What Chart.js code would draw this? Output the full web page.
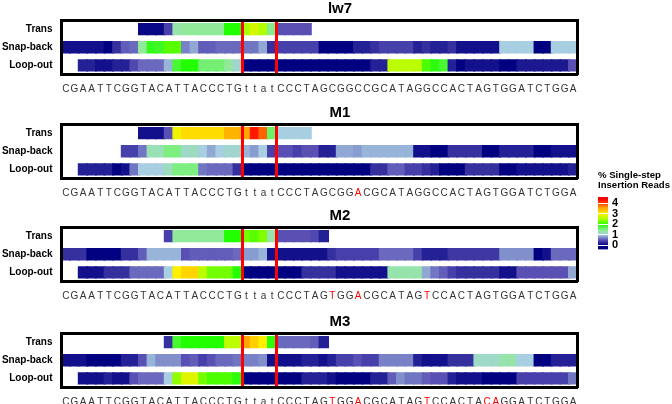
<!DOCTYPE html>
<html><head><meta charset="utf-8">
<script src="https://cdn.jsdelivr.net/npm/chart.js@4.4.1/dist/chart.umd.min.js"></script>
<style>
html,body{margin:0;padding:0;background:#fff;}
#wrap{position:relative;width:672px;height:404px;overflow:hidden;background:#fff;}
canvas{position:absolute;}
</style></head><body><div id="wrap">
<canvas id="p0" width="680" height="104" style="left:0px;top:0px"></canvas>
<canvas id="p1" width="680" height="104" style="left:0px;top:104px"></canvas>
<canvas id="p2" width="680" height="104" style="left:0px;top:207px"></canvas>
<canvas id="p3" width="680" height="104" style="left:0px;top:313px"></canvas>
<canvas id="leg" width="82" height="92" style="left:590px;top:168px"></canvas>
</div>
<script>
const FONT = "'Liberation Sans', Arial, sans-serif";
const rowLabels = ['Trans', 'Snap-back', 'Loop-out'];
const panelTitles = ['lw7', 'M1', 'M2', 'M3'];
const redLines = [21, 25];
const colorTicks = [0, 1, 2, 3, 4];

const seqLw7 = [...'CGAATTCGGTACATTACCCTGttatCCCTAGCGGCCGCATAGGCCACTAGTGGATCTGGA'];
const seqM1  = [...'CGAATTCGGTACATTACCCTGttatCCCTAGCGGACGCATAGGCCACTAGTGGATCTGGA'];
const seqM2  = [...'CGAATTCGGTACATTACCCTGttatCCCTAGTGGACGCATAGTCCACTAGTGGATCTGGA'];
const seqM3  = [...'CGAATTCGGTACATTACCCTGttatCCCTAGTGGACGCATAGTCCACTACAGGATCTGGA'];
const mutLw7 = [];
const mutM1 = [34];
const mutM2 = [31, 34, 42];
const mutM3 = [31, 34, 42, 49, 50];

const _ = null;
const lw7Trans = [_,_,_,_,_,_,_,_,_, 0.05,0.05,0.05, 0.4, 1.3, 1.4,1.4,1.4,1.4,1.4, 2.0,2.0, 2.5,2.75,2.55, 1.45, 0.5,0.5,0.5,0.5,
  _,_,_,_,_,_,_,_,_,_,_,_,_,_,_,_,_,_,_,_,_,_,_,_,_,_,_,_,_,_,_];
const lw7Snap = [0.1,0.1,0.1,0.1,0.1, 0, 0.3, 0.55, 0.6, 1.4, 1.9, 1.85, 2.2, 2.2, 0.7, 0.85, 0.55,0.55, 0.6,0.6,0.6, 0.65,0.65, 0.85, 0.3,
  0.4,0.4,0.4,0.4,0.4, 0,0,0,0, 0.2,0.2, 0.3, 0.4,0.4,0.4,0.4, 0.2, 0.3, 0.2,0.2, 0.3, 0.1,0.1,0.1,0.1,0.1, 1.0,1.0,1.0,1.0, 0,0, 1.0,1.0,1.0];
const lw7Loop = [_,_, 0.2,0.2, 0.1,0.1, 0.2,0.2, 0.45, 0.6,0.6,0.6, 0.9, 1.8, 2.0,2.0, 1.55,1.55,1.55, 1.4, 1.1,
  0,0,0,0,0,0,0,0,0,0,0,0,0,0,0, 0.2,0.2, 2.6,2.6,2.6,2.6, 2.15, 1.95, 1.8, 0.2, 0, 0.1,0.1,0.1,0.1, 0,0, 0.15,0.15,0.15,0.15,0.15,0.15, 0.5];

const m1Trans = [_,_,_,_,_,_,_,_,_, 0.1,0.1,0.1, 0.5, 2.9, 3.15,3.15,3.15,3.15,3.15, 3.45,3.45, 3.55, 4.25, 3.85, 1.6, 1.0,1.0,1.0,1.0,
  _,_,_,_,_,_,_,_,_,_,_,_,_,_,_,_,_,_,_,_,_,_,_,_,_,_,_,_,_,_,_];
const m1Snap = [_,_,_,_,_,_,_, 0.4,0.4, 0.65, 1.25,1.25, 1.5,1.5, 1.15, 1.2, 1.0, 0.85, 1.0, 1.1,1.1, 0.9, 0.8, 1.0, 0.4,
  0.5,0.5, 0.4, 0.5,0.5, 0.2,0.2, 0.85,0.85, 0.8, 0.9,0.9,0.9,0.9,0.9,0.9, 0.1,0.1, 0,0, 0.3,0.3,0.3,0.3, 0,0, 0.2,0.2,0.2,0.2, 0,0, 0.1,0.1,0.1];
const m1Loop = [_,_, 0.2,0.2,0.2,0.2, 0, 0.1, 0.65, 1.0,1.0,1.0, 1.2, 1.5,1.5,1.5, 0.65, 0.6,0.6,0.6, 0.3,
  0,0,0,0,0,0,0,0,0,0,0,0,0,0,0, 0.3,0.3, 0.55,0.55, 0.4,0.4, 0.3, 0.2, 0,0,0, 0.3,0.3,0.3,0.3, 0,0, 0.1,0.1,0.1,0.1,0.1,0.1, 0.2];

const m2Trans = [_,_,_,_,_,_,_,_,_,_,_,_, 0.4, 1.4,1.4,1.4,1.4,1.4,1.4, 2.0,2.0, 2.3, 2.2, 2.35, 1.3, 0.5,0.5,0.5,0.5, 0.45, 0.2,
  _,_,_,_,_,_,_,_,_,_,_,_,_,_,_,_,_,_,_,_,_,_,_,_,_,_,_,_,_];
const m2Snap = [0.3,0.3,0.3, 0,0,0,0, 0.3,0.3, 0.55, 0.9,0.9,0.9,0.9, 0.5, 0.55,0.55,0.55,0.55,0.55, 0.6, 0.8,0.8, 0.9, 0.1,
  0.1,0.1,0.1,0.1,0.1,0.1, 0.3, 0.4,0.4,0.4,0.4,0.4, 0.6,0.6,0.6,0.6, 0.4, 0.2,0.2,0.2, 0.35,0.35,0.35,0.35,0.35,0.35, 0.75,0.75,0.75,0.75, 0, 0.1, 0.6,0.6,0.6];
const m2Loop = [_,_, 0.1,0.1,0.1, 0.3,0.3,0.3, 0.6,0.6,0.6,0.6, 1.0, 3.0, 3.2,3.2, 2.6, 2.3,2.3,2.3, 2.0,
  0,0,0,0,0,0,0, 0.3,0.3,0.3,0.3, 0.1,0.1,0.1,0.1,0.1,0.1, 1.3,1.3,1.3,1.3, 0.85, 0.65, 0.55, 0.4, 0.3,0.3,0.3,0.3,0.3, 0.1,0.1, 0.5,0.5,0.5,0.5,0.5,0.5, 0.85];

const m3Trans = [_,_,_,_,_,_,_,_,_,_,_,_, 0.3, 1.8, 2.0,2.0,2.0,2.0,2.0, 2.6,2.6, 3.55, 3.25, 3.0, 1.95, 0.6,0.6,0.6,0.6, 0.55, 0.2,
  _,_,_,_,_,_,_,_,_,_,_,_,_,_,_,_,_,_,_,_,_,_,_,_,_,_,_,_,_];
const m3Snap = [0.1,0.1,0.1, 0,0,0,0, 0.2,0.2, 0.5, 0.9, 0.75,0.75,0.75, 0.5, 0.55, 0.4, 0.5, 0.6,0.6, 0.65, 0.7,0.7, 0.75,
  0.1,0.1,0.1,0.1, 0.2,0.2, 0.1, 0.2, 0.4,0.4, 0.5, 0.4,0.4, 0.7,0.7,0.7,0.7, 0.2, 0.1,0.1,0.1, 0.3,0.3,0.3, 1.15,1.15,1.15, 1.3,1.3, 1.0,1.0, 0,0, 0.2,0.2,0.2];
const m3Loop = [_,_, 0.1,0.1,0.1, 0.2, 0.1,0.1, 0.5, 0.6,0.6,0.6, 1.0, 2.4, 2.8,2.8, 2.3, 2.15,2.15,2.15, 1.95,
  0,0,0,0,0,0,0, 0.2,0.2,0.2, 0.1, 0,0,0,0, 0.2,0.2, 0.55, 0.75, 0.65,0.65, 0.55, 0.5,0.5, 0.2, 0.1,0.1,0.1, 0,0,0,0, 0.4,0.4,0.4,0.4,0.4,0.4, 0.65];

const rampStops = [[0,'#000080'],[0.5,'#5A50B4'],[1,'#A8CEE2'],[1.4,'#90EA9A'],[2,'#22FF00'],[2.5,'#AAFF00'],
  [3,'#FFF000'],[3.3,'#FFC800'],[3.6,'#FFA000'],[4,'#FF4000'],[4.4,'#FF0000']];
const RAMP_MAX = 4.4;

function hex(h){ return [parseInt(h.substr(1,2),16), parseInt(h.substr(3,2),16), parseInt(h.substr(5,2),16)]; }
function ramp(v){
  if (v <= rampStops[0][0]) return rampStops[0][1];
  for (let i = 1; i < rampStops.length; i++){
    if (v <= rampStops[i][0]){
      const [a, ca] = rampStops[i-1], [b, cb] = rampStops[i];
      const t = (v - a) / (b - a), A = hex(ca), B = hex(cb);
      const c = A.map((x, k) => Math.round(x + (B[k] - x) * t));
      return 'rgb(' + c.join(',') + ')';
    }
  }
  return rampStops[rampStops.length-1][1];
}

const panels = [
  {id:'p0', title: panelTitles[0], rows:[lw7Trans, lw7Snap, lw7Loop], seq: seqLw7, mut: mutLw7},
  {id:'p1', title: panelTitles[1], rows:[m1Trans, m1Snap, m1Loop], seq: seqM1, mut: mutM1},
  {id:'p2', title: panelTitles[2], rows:[m2Trans, m2Snap, m2Loop], seq: seqM2, mut: mutM2},
  {id:'p3', title: panelTitles[3], rows:[m3Trans, m3Snap, m3Loop], seq: seqM3, mut: mutM3}
];

const AREA_LEFT = 61.5, AREA_RIGHT = 577.5, CANVAS_W = 680, CANVAS_H = 104, TOP_H = 20, BOX_H = 54.5;

panels.forEach(p => {
  const cells = [];
  p.rows.forEach((vals, r) => vals.forEach((v, c) => {
    if (v !== null) cells.push({y: rowLabels[r], x: [c, c + 1], v: v});
  }));
  new Chart(document.getElementById(p.id), {
    type: 'bar',
    data: {
      labels: rowLabels,
      datasets: [{
        data: cells,
        backgroundColor: ctx => ramp(ctx.raw ? ctx.raw.v : 0),
        borderWidth: 0,
        inflateAmount: 0.9,
        barPercentage: 0.58,
        categoryPercentage: 1
      }]
    },
    options: {
      indexAxis: 'y', responsive: false, animation: false, devicePixelRatio: 1,
      layout: {padding: 0},
      plugins: {
        legend: {display: false}, tooltip: {enabled: false},
        title: {display: true, text: p.title, color: '#000',
          font: {family: FONT, size: 15, weight: 'bold', lineHeight: 1.2}, padding: {top: 0, bottom: 2}}
      },
      scales: {
        x: {
          type: 'linear', min: 0, max: 60, position: 'bottom',
          grid: {display: false, drawTicks: false},
          border: {display: true, color: '#000', width: 3, z: 2},
          afterBuildTicks: s => { s.ticks = p.seq.map((ch, i) => ({value: i + 0.5})); },
          afterFit: s => { s.height = CANVAS_H - TOP_H - BOX_H; },
          ticks: {
            autoSkip: false, maxRotation: 0, minRotation: 0, padding: 9,
            font: {family: FONT, size: 10},
            color: ctx => p.mut.includes(ctx.index) ? '#FF0000' : '#333333',
            callback: (val, i) => p.seq[i]
          }
        },
        xr: {
          type: 'linear', min: 0, max: 60, position: 'top',
          grid: {display: true, color: '#FF0000', lineWidth: 3, drawTicks: false, z: 1},
          border: {display: true, color: '#000', width: 3, z: 2},
          ticks: {display: false},
          afterBuildTicks: s => { s.ticks = redLines.map(v => ({value: v})); },
          afterFit: s => { s.height = 0; }
        },
        y: {
          type: 'category', position: 'left',
          grid: {display: false, drawTicks: false},
          border: {display: true, color: '#000', width: 3, z: 2},
          ticks: {font: {family: FONT, size: 10, weight: 'bold'}, color: '#000', padding: 9},
          afterFit: s => { s.width = AREA_LEFT; }
        },
        yr: {
          type: 'category', position: 'right',
          grid: {display: false, drawTicks: false},
          border: {display: true, color: '#000', width: 3, z: 2},
          ticks: {display: false},
          afterFit: s => { s.width = CANVAS_W - AREA_RIGHT; }
        }
      }
    }
  });
});

new Chart(document.getElementById('leg'), {
  type: 'bar',
  data: {
    labels: ['scale'],
    datasets: [{
      data: [[-0.4, 4.6]],
      backgroundColor: ctx => {
        const ch = ctx.chart;
        if (!ch.chartArea || !ch.scales.y) return '#000080';
        const ys = ch.scales.y;
        const g = ch.ctx.createLinearGradient(0, ys.getPixelForValue(0), 0, ys.getPixelForValue(RAMP_MAX));
        rampStops.forEach(([v, c]) => g.addColorStop(v / RAMP_MAX, c));
        return g;
      },
      borderWidth: 0, barPercentage: 1, categoryPercentage: 1
    }]
  },
  options: {
    responsive: false, animation: false, devicePixelRatio: 1,
    layout: {padding: {left: 8, right: 0, top: 0, bottom: 1}},
    plugins: {
      legend: {display: false}, tooltip: {enabled: false},
      title: {display: true, align: 'start', text: ['% Single-step', 'Insertion Reads'], color: '#000',
        font: {family: FONT, size: 9.6, weight: 'bold', lineHeight: 1.1}, padding: {top: 2, bottom: 6}}
    },
    scales: {
      x: {display: false},
      y: {
        position: 'right', min: -0.4, max: 4.6,
        afterBuildTicks: s => { s.ticks = colorTicks.map(v => ({value: v})); },
        grid: {color: '#FFFFFF', lineWidth: 1, drawTicks: false, z: 1},
        border: {display: false},
        ticks: {autoSkip: false, font: {family: FONT, size: 11, weight: 'bold'}, color: '#000', padding: 4},
        afterFit: s => { s.width = 64; }
      }
    }
  }
});
</script>
</body></html>
